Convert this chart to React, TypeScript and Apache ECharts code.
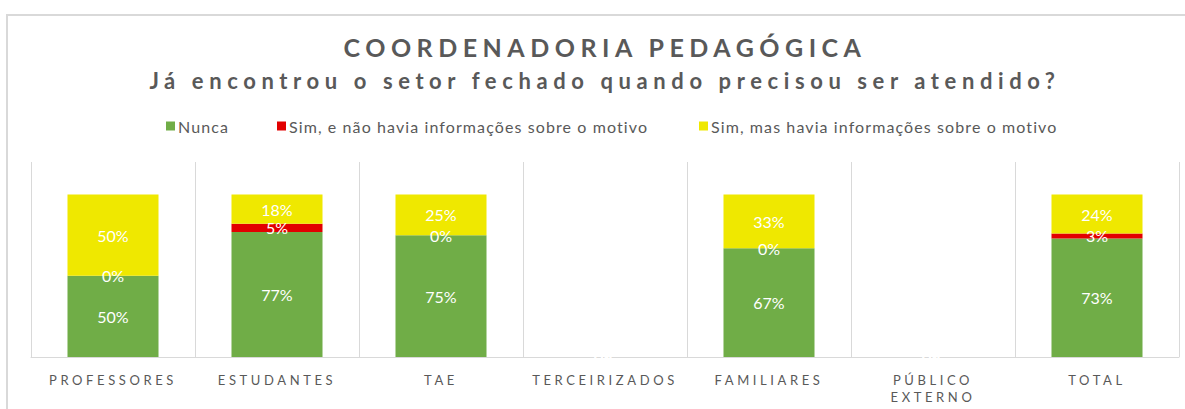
import React, { useEffect, useRef } from "react";
import * as echarts from "echarts";

const categories = ["PROFESSORES", "ESTUDANTES", "TAE", "TERCEIRIZADOS", "FAMILIARES", "PÚBLICO EXTERNO", "TOTAL"];
const seriesNames = [
  "Nunca",
  "Sim, e não havia informações sobre o motivo",
  "Sim, mas havia informações sobre o motivo",
];
const nunca = [50, 77, 75, 0, 67, 0, 73];
const simSemInfo = [0, 5, 0, 0, 0, 0, 3];
const simComInfo = [50, 18, 25, 0, 33, 0, 24];
const titleText = "COORDENADORIA PEDAGÓGICA";
const subtitleText = "Já encontrou o setor fechado quando precisou ser atendido?";

const colors = ["#70AD47", "#E20000", "#EFE800"];
const legendLefts = [161, 272, 694];
const FONT = "Lato";
const GRAY = "#595959";

export default function App() {
  const ref = useRef<HTMLDivElement>(null);
  useEffect(() => {
    if (!ref.current) return;
    const chart = echarts.init(ref.current, undefined, { renderer: "svg" });
    const values = [nunca, simSemInfo, simComInfo];
    chart.setOption({
      animation: false,
      textStyle: { fontFamily: FONT },
      graphic: [
        {
          type: "rect",
          shape: { x: 7, y: 15, width: 1200, height: 420 },
          style: { fill: "none", stroke: "#d9d9d9", lineWidth: 2 },
          silent: true,
        },
        {
          type: "text",
          x: 605,
          y: 47,
          style: {
            text: titleText,
            textAlign: "center",
            textVerticalAlign: "middle",
            fill: GRAY,
            font: `bold 25px ${FONT}`,
          },
        },
        {
          type: "text",
          x: 605,
          y: 80,
          style: {
            text: subtitleText,
            textAlign: "center",
            textVerticalAlign: "middle",
            fill: GRAY,
            font: `bold 22px ${FONT}`,
          },
        },
      ],
      legend: seriesNames.map((name, i) => ({
        top: 113,
        left: legendLefts[i],
        icon: "rect",
        itemWidth: 9,
        itemHeight: 9,
        textStyle: { color: GRAY, fontSize: 16, fontFamily: FONT, padding: [0, 0, 0, -2] },
        data: [name],
      })),
      grid: { left: 31, right: 6, top: 162, bottom: 52, containLabel: false },
      xAxis: {
        type: "category",
        data: categories,
        axisLine: { lineStyle: { color: "#d9d9d9", width: 1 } },
        axisTick: { show: false },
        splitLine: { show: true, lineStyle: { color: "#d9d9d9", width: 1 } },
        axisLabel: {
          color: GRAY,
          fontSize: 13,
          fontFamily: FONT,
          margin: 14,
          lineHeight: 17,
          interval: 0,
          formatter: (v: string) => v.replace(" ", "\n"),
        },
      },
      yAxis: { type: "value", min: 0, max: 120, show: false, splitLine: { show: false } },
      series: seriesNames.map((name, i) => ({
        name,
        type: "bar",
        stack: "total",
        barWidth: "55.5%",
        data: values[i],
        itemStyle: { color: colors[i] },
        label: {
          show: true,
          position: "inside",
          color: "#ffffff",
          fontSize: 16,
          fontFamily: FONT,
          formatter: "{c}%",
        },
      })),
    });

    const upper = new Set<string>();
    categories.forEach((c) => c.split(" ").forEach((p) => upper.add(p)));
    const applySpacing = () => {
      const texts = ref.current?.querySelectorAll("text") || [];
      texts.forEach((t) => {
        const s = (t.textContent || "").trim();
        let sp = 0;
        if (s === titleText) sp = 5.5;
        else if (s === subtitleText) sp = 5.6;
        else if (upper.has(s)) sp = 3.6;
        else if (seriesNames.includes(s)) sp = 1.1;
        if (sp) t.setAttribute("letter-spacing", String(sp));
      });
    };
    chart.on("finished", applySpacing);
    applySpacing();
    const tm = setTimeout(applySpacing, 50);
    return () => {
      clearTimeout(tm);
      chart.dispose();
    };
  }, []);
  return (
    <div
      ref={ref}
      style={{ position: "fixed", left: 0, top: 0, width: 1185, height: 409, background: "#fff" }}
    />
  );
}
